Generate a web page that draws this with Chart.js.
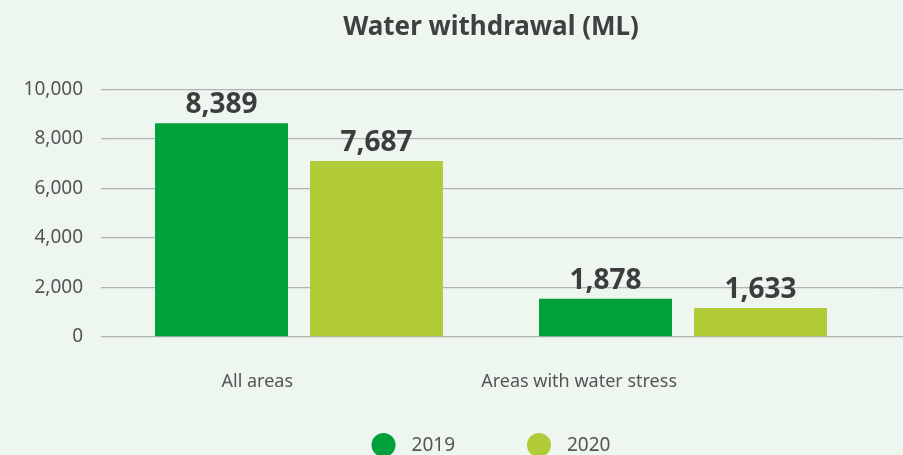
<!DOCTYPE html>
<html>
<head>
<meta charset="utf-8">
<script src="https://cdn.jsdelivr.net/npm/chart.js@4.4.1/dist/chart.umd.min.js"></script>
<style>
	html, body { margin: 0; padding: 0; background: #edf7f0; }
	#wrap { width: 903px; height: 455px; }
</style>
</head>
<body>
<div id="wrap"><canvas id="chart" width="903" height="455"></canvas></div>
<script>
// Chart data
const categories = ["All areas", "Areas with water stress"];
const seriesNames = ["2019", "2020"];
const values2019 = [8630, 1540];
const values2020 = [7100, 1175];
const labels2019 = ["8,389", "1,878"];
const labels2020 = ["7,687", "1,633"];
const yTicks = [0, 2000, 4000, 6000, 8000, 10000];

const colors = ["#00a03a", "#b0cb37"];
const gridColor = "#b3b3b3";
const fontFamily = "'Noto Sans', 'Open Sans', sans-serif";

// Draw the value labels above each bar
const valueLabelPlugin = {
	id: "valueLabels",
	afterDatasetsDraw(chart) {
		const ctx = chart.ctx;
		const texts = [labels2019, labels2020];
		ctx.save();
		ctx.font = "bold 28px " + fontFamily;
		ctx.fillStyle = "#3d3d3d";
		ctx.textAlign = "center";
		ctx.textBaseline = "alphabetic";
		chart.data.datasets.forEach((ds, i) => {
			chart.getDatasetMeta(i).data.forEach((bar, j) => {
				ctx.fillText(texts[i][j], bar.x, bar.y - 10);
			});
		});
		ctx.restore();
	}
};

// Legend with round markers under the axis labels
const circleLegendPlugin = {
	id: "circleLegend",
	afterDraw(chart) {
		const ctx = chart.ctx;
		const area = chart.chartArea;
		const radius = 12;
		const textGap = 16;
		const itemGap = 72;
		ctx.save();
		ctx.font = "19px " + fontFamily;
		const widths = chart.data.datasets.map((ds) => radius * 2 + textGap + ctx.measureText(ds.label).width);
		const total = widths.reduce((a, b) => a + b, 0) + itemGap * (widths.length - 1);
		let x = (area.left + area.right) / 2 - total / 2;
		const y = chart.height - 10;
		chart.data.datasets.forEach((ds, i) => {
			ctx.fillStyle = ds.backgroundColor;
			ctx.beginPath();
			ctx.arc(x + radius, y, radius, 0, Math.PI * 2);
			ctx.fill();
			ctx.fillStyle = "#555555";
			ctx.textAlign = "left";
			ctx.textBaseline = "middle";
			ctx.fillText(ds.label, x + radius * 2 + textGap, y + 1);
			x += widths[i] + itemGap;
		});
		ctx.restore();
	}
};

const ctx = document.getElementById("chart").getContext("2d");
new Chart(ctx, {
	type: "bar",
	data: {
		labels: categories,
		datasets: [
			{ label: seriesNames[0], data: values2019, backgroundColor: colors[0] },
			{ label: seriesNames[1], data: values2020, backgroundColor: colors[1] },
		],
	},
	options: {
		responsive: false,
		animation: false,
		categoryPercentage: 0.807,
		barPercentage: 0.858,
		layout: { padding: { left: 0, right: 0, top: 0, bottom: 56 } },
		plugins: {
			legend: { display: false },
			tooltip: { enabled: false },
			title: {
				display: true,
				fullSize: false,
				text: "Water withdrawal (ML)",
				color: "#404040",
				font: { family: fontFamily, size: 26, weight: "bold" },
				padding: { top: 12, bottom: 46 },
			},
		},
		scales: {
			x: {
				afterFit: (scale) => { scale.height = 62; },
				grid: { display: false, drawTicks: false },
				border: { display: false },
				ticks: {
					color: "#555555",
					font: { family: fontFamily, size: 18 },
					align: "end",
					labelOffset: -6,
					padding: 34,
					maxRotation: 0,
					minRotation: 0,
				},
			},
			y: {
				min: 0,
				max: 10000,
				afterBuildTicks: (scale) => { scale.ticks = yTicks.map((v) => ({ value: v })); },
				afterFit: (scale) => { scale.width = 107; },
				grid: { color: gridColor, lineWidth: 1.3, tickLength: 6, drawTicks: true },
				border: { display: false },
				ticks: {
					color: "#555555",
					font: { family: fontFamily, size: 19 },
					padding: 18,
					callback: (v) => v.toLocaleString("en-US"),
				},
			},
			yRight: {
				position: "right",
				min: 0,
				max: 10000,
				afterBuildTicks: (scale) => { scale.ticks = yTicks.map((v) => ({ value: v })); },
				grid: { color: gridColor, lineWidth: 1.3, drawOnChartArea: false, tickLength: 28 },
				border: { display: false },
				ticks: { display: false },
			},
		},
	},
	plugins: [valueLabelPlugin, circleLegendPlugin],
});
</script>
</body>
</html>
